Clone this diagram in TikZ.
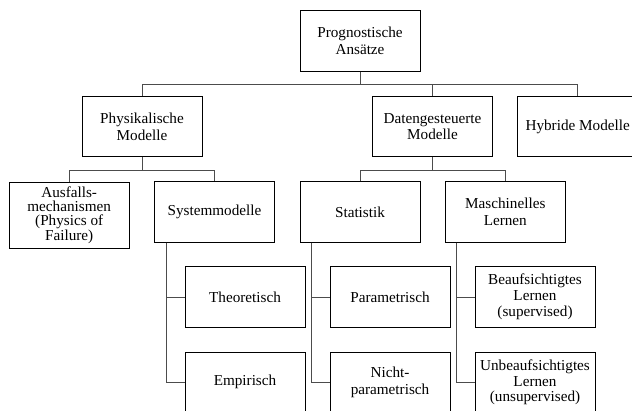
\documentclass[tikz,border=0pt]{standalone}
\usepackage{fontspec}
\setmainfont{Liberation Serif}
\begin{document}
\begin{tikzpicture}[x=1pt,y=-1pt,
  box/.style={draw=black,line width=0.8pt,fill=white,minimum width=120pt,minimum height=60.5pt,
    inner sep=2pt,align=center,font=\fontsize{15.2}{16.8}\selectfont},
  link/.style={draw=black!70,line width=0.9pt}]
\useasboundingbox (0,0) rectangle (632,410);
\clip (0,0) rectangle (632,410);
\fill[white] (0,0) rectangle (632,410);

% level 0
\node[box] (root) at (360,41) {Prognostische\\Ansätze};
% level 1
\node[box] (phys) at (142,126.5) {Physikalische\\Modelle};
\node[box] (data) at (432.5,126.5) {Datengesteuerte\\Modelle};
\node[box] (hyb)  at (577.7,126.5) {Hybride Modelle};
% level 2
\node[box,minimum width=119.5pt,minimum height=66pt,font=\fontsize{15.2}{14.3}\selectfont]
  (ausf) at (69.2,215) {Ausfalls-\\mechanismen\\(Physics of\\Failure)};
\node[box] (sys)  at (214.5,212) {Systemmodelle};
\node[box] (stat) at (360,212) {Statistik};
\node[box] (ml)   at (505.3,212) {Maschinelles\\Lernen};
% level 3
\node[box] (theo) at (245,297) {Theoretisch};
\node[box] (emp)  at (245,382.3) {Empirisch};
\node[box] (para) at (390,297) {Parametrisch};
\node[box] (npar) at (390,382.3) {Nicht-\\parametrisch};
\node[box,font=\fontsize{15.2}{15.8}\selectfont] (sup)  at (535,297) {Beaufsichtigtes\\Lernen\\(supervised)};
\node[box,font=\fontsize{15.2}{15.8}\selectfont] (unsup) at (535,382.3) {Unbeaufsichtigtes\\Lernen\\(unsupervised)};

% bus lines
\coordinate (bus) at (0,84);
\coordinate (sub) at (0,170);

\draw[link] (root.south) -- (root.south |- bus);
\draw[link] (phys.north) |- (bus -| hyb.north) -- (hyb.north);
\draw[link] (data.north) -- (data.north |- bus);

\draw[link] (phys.south) -- (phys.south |- sub);
\draw[link] (ausf.north) |- (sub -| sys.north) -- (sys.north);
\draw[link] (data.south) -- (data.south |- sub);
\draw[link] (stat.north) |- (sub -| ml.north) -- (ml.north);

% side branches
\draw[link] ([xshift=12]sys.south west) |- (theo.west);
\draw[link] ([xshift=12]sys.south west) |- (emp.west);
\draw[link] ([xshift=12]stat.south west) |- (para.west);
\draw[link] ([xshift=12]stat.south west) |- (npar.west);
\draw[link] ([xshift=12]ml.south west) |- (sup.west);
\draw[link] ([xshift=12]ml.south west) |- (unsup.west);
\end{tikzpicture}
\end{document}
